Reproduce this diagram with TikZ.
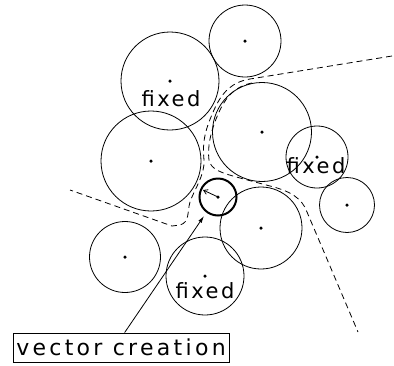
\documentclass[tikz,border=0pt]{standalone}
\usepackage{fontspec}
\setsansfont{DejaVu Sans}[LetterSpace=12]
\newfontfamily\labfont{DejaVu Sans}[LetterSpace=15]
\usetikzlibrary{arrows.meta,calc}
\begin{document}
\begin{tikzpicture}[x=1pt,y=-1pt,
  disc/.style={circle,draw,line width=0.8pt,inner sep=0pt,minimum size=#1},
  ctr/.style={circle,fill,inner sep=0pt,minimum size=3.5pt},
  lbl/.style={font=\sffamily\fontsize{21}{21}\selectfont,inner sep=0pt},
  chan/.style={dash pattern=on 6pt off 4pt,line width=0.8pt},
  labelbox/.style={draw,line width=0.8pt,font=\labfont\fontsize{22}{22}\selectfont,
    minimum width=216pt,minimum height=29pt,inner sep=0pt}]
\useasboundingbox (0,0) rectangle (394,365);
% circles
\node[disc=72pt]  (c1)  at (245,41)  {};
\node[disc=98pt]  (c2)  at (170,81)  {};
\node[disc=100pt] (c3)  at (151,161) {};
\node[disc=99pt]  (c4)  at (262,132) {};
\node[disc=62pt]  (c5)  at (317,157) {};
\node[disc=55pt]  (c6)  at (347,205) {};
\node[disc=37pt,line width=2pt] (c7) at (218,197) {};
\node[disc=82pt]  (c8)  at (261,228) {};
\node[disc=71pt]  (c9)  at (125,257) {};
\node[disc=78pt]  (c10) at (205,276) {};
% centre dots
\foreach \c in {c1,c2,c3,c4,c5,c6,c7,c8,c9,c10}
  \node[ctr] (d\c) at (\c.center) {};
% fixed labels
\node[lbl,anchor=base] (f2)  at (171,106) {fixed};
\node[lbl,anchor=base] (f5)  at (316,173) {fixed};
\node[lbl,anchor=base] (f10) at (205,298) {fixed};
% channel (dashed) lines
\draw[chan] (392,56) -- (250,79) .. controls (232,82) and (222,92) .. (214,110)
  .. controls (206,128) and (202,140) .. (204,160)
  .. controls (205,175) and (194,190) .. (190,202)
  .. controls (187,212) and (190,222) .. (180,225)
  -- (172,226) -- (70,190);
\draw[chan] (252,83) .. controls (236,86) and (227,96) .. (221,108)
  .. controls (212,126) and (207,145) .. (209,160)
  .. controls (211,170) and (222,173) .. (240,178)
  -- (270,186) .. controls (290,191) and (302,198) .. (307,212)
  -- (358,332);
% vector inside the thick circle
\coordinate (vtip) at (203,190);
\draw[line width=0.8pt,-{Straight Barb[length=4pt,width=5pt]}] (c7.center) -- (vtip);
% label and pointer
\node[labelbox] (lab) at (121,347.5) {vector creation};
\coordinate (ptip) at (204,216);
\draw[line width=0.8pt,-{Latex[length=7pt,width=4pt]}] ($(lab.north west)+(112,0)$) -- (ptip);
\end{tikzpicture}
\end{document}
